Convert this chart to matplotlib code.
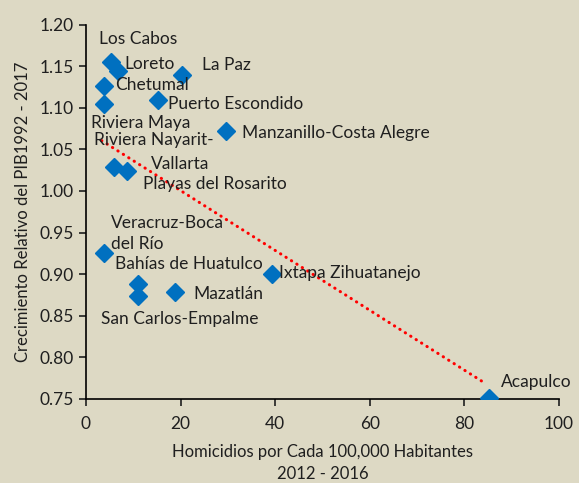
import matplotlib
matplotlib.use("Agg")
import matplotlib.pyplot as plt
import numpy as np

# homicidios por cada 100,000 hab. (2012-2016) vs crecimiento relativo del PIB
destinos = ["Los Cabos", "Loreto", "La Paz", "Chetumal", "Riviera Maya",
            "Puerto Escondido", "Manzanillo-Costa Alegre",
            "Riviera Nayarit-\nVallarta", "Playas del Rosarito",
            "Veracruz-Boca\ndel Río", "Bahías de Huatulco", "San Carlos-Empalme",
            "Mazatlán", "Ixtapa Zihuatanejo", "Acapulco"]
homicidios = [5.3, 6.7, 20.2, 3.8, 3.8, 15.2, 29.7, 6.0, 8.7, 3.8, 10.9, 11.1,
              18.8, 39.3, 85.2]
crecimiento = [1.155, 1.144, 1.140, 1.126, 1.105, 1.109, 1.072, 1.029, 1.024,
               0.925, 0.888, 0.874, 0.879, 0.900, 0.751]

# where each label line sits (data coords, left edge / vertical centre)
label_pos = [[(2.75, 1.183)], [(8.2, 1.153)], [(24.5, 1.151)], [(6.1, 1.127)],
             [(1.0, 1.082)], [(17.4, 1.104)], [(32.9, 1.070)],
             [(1.7, 1.061), (13.7, 1.033)], [(12.1, 1.009)],
             [(5.2, 0.962), (5.2, 0.936)], [(6.1, 0.912)], [(3.1, 0.846)],
             [(22.7, 0.876)], [(40.9, 0.901)], [(87.7, 0.770)]]

bg = "#DDD9C4"
txt = "#1f1f1f"
plt.rcParams['font.family'] = ['Lato', 'DejaVu Sans']

fig = plt.figure(figsize=(5.79, 4.83), dpi=100, facecolor=bg)
ax = fig.add_axes([0.1485, 0.174, 0.817, 0.775], facecolor=bg)

# linear trend over data range
m, b = np.polyfit(homicidios, crecimiento, 1)
xt = np.array([min(homicidios) - 0.5, max(homicidios) - 1.0])
ax.plot(xt, m * xt + b, color="red", lw=2.2, linestyle=(0, (0.1, 2)),
        dash_capstyle="round", zorder=2)

ax.plot(homicidios, crecimiento, linestyle="none", marker="D", ms=9.5,
        color="#0070C0", zorder=3)

for name, pos in zip(destinos, label_pos):
    for line, (lx, ly) in zip(name.split("\n"), pos):
        ax.text(lx, ly, line, fontsize=12.5, color=txt, ha="left", va="center",
                zorder=4)

ax.set_xlim(0, 100)
ax.set_ylim(0.75, 1.20)
ax.set_xticks(np.arange(0, 101, 20))
ax.set_yticks(np.arange(0.75, 1.201, 0.05))
ax.yaxis.set_major_formatter(matplotlib.ticker.FormatStrFormatter("%.2f"))
ax.tick_params(labelsize=12.5, colors=txt, length=5, width=1.2, direction="out")
ax.tick_params(axis="x", pad=7)
for s in ["top", "right"]:
    ax.spines[s].set_visible(False)
for s in ["left", "bottom"]:
    ax.spines[s].set_linewidth(1.2)
    ax.spines[s].set_color("black")

ax.set_xlabel("Homicidios por Cada 100,000 Habitantes\n2012 - 2016",
              fontsize=12, color=txt, labelpad=9, linespacing=1.45)
ax.set_ylabel("Crecimiento Relativo del PIB1992 - 2017", fontsize=12,
              color=txt, labelpad=6)

fig.savefig("out.png", dpi=100, facecolor=bg)
